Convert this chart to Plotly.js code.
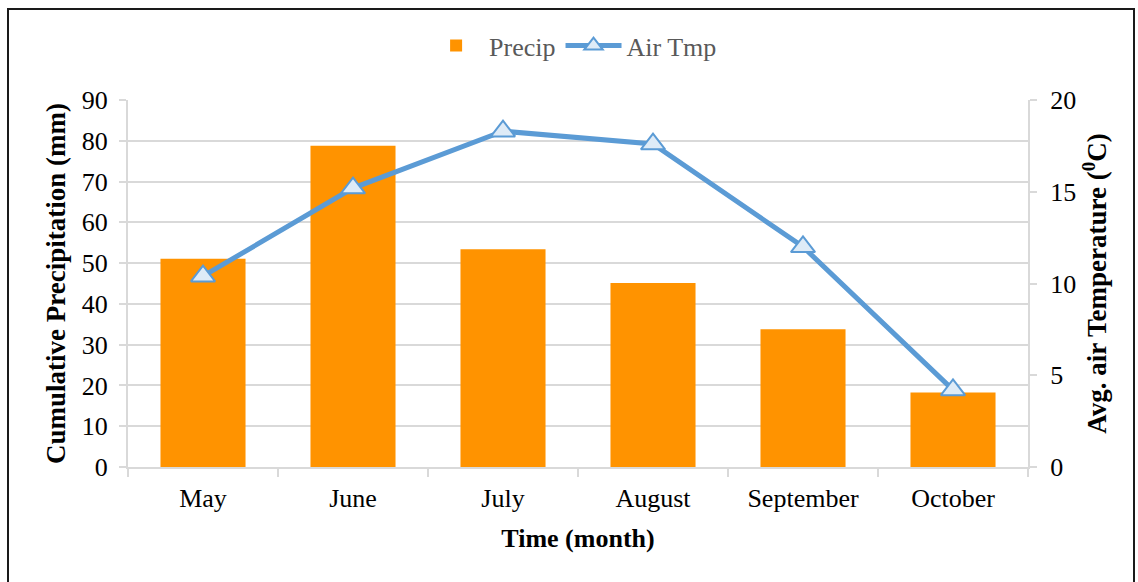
<!DOCTYPE html>
<html>
<head>
<meta charset="utf-8">
<script src="https://cdn.plot.ly/plotly-3.0.1.min.js"></script>
<style>
  html, body { margin: 0; padding: 0; background: #fff; }
  #wrap { position: relative; width: 1138px; height: 582px; overflow: hidden; }
  #chart { width: 1138px; height: 582px; }
  #frame {
    position: absolute; left: 7px; top: 8px; width: 1124px; height: 600px;
    border: 2px solid #1a1a1a; pointer-events: none;
  }
</style>
</head>
<body>
<div id="wrap">
  <div id="chart"></div>
  <div id="frame"></div>
</div>
<script>
// Monthly totals and averages for the growing season
const months = ["May", "June", "July", "August", "September", "October"];
const precipMm = [51.1, 78.8, 53.4, 45.1, 33.8, 18.3];
const airTempC = [10.4, 15.2, 18.3, 17.6, 12.0, 4.2];

const leftTicks = [0, 10, 20, 30, 40, 50, 60, 70, 80, 90];
const rightTicks = [0, 5, 10, 15, 20];

const serif = "'Liberation Serif', 'Times New Roman', serif";
const gridGray = "#d9d9d9";

const traces = [
  {
    type: "bar",
    name: "Precip",
    x: months,
    y: precipMm,
    marker: { color: "#ff9300", line: { width: 0 } },
    yaxis: "y",
    hoverinfo: "x+y"
  },
  {
    type: "scatter",
    mode: "lines+markers",
    name: "Air Tmp",
    x: months,
    y: airTempC,
    yaxis: "y2",
    line: { color: "#5b9bd5", width: 5 },
    marker: {
      symbol: "triangle-up",
      size: 21,
      color: "#deebf7",
      line: { color: "#5b9bd5", width: 2 }
    }
  }
];

const layout = {
  width: 1138,
  height: 582,
  margin: { l: 128, r: 110, t: 100, b: 115, pad: 0 },
  paper_bgcolor: "#ffffff",
  plot_bgcolor: "#ffffff",
  font: { family: serif, size: 26, color: "#000000" },
  bargap: 0.433,
  showlegend: true,
  legend: {
    orientation: "h",
    x: 0.494, xanchor: "center",
    y: 1.148, yanchor: "middle",
    font: { family: serif, size: 26, color: "#595959" },
    traceorder: "normal",
    itemwidth: 56
  },
  xaxis: {
    type: "category",
    tickson: "boundaries",
    ticks: "outside",
    ticklen: 8,
    tickwidth: 2,
    tickcolor: gridGray,
    ticklabelstandoff: 7,
    showline: true,
    linecolor: gridGray,
    linewidth: 2,
    showgrid: false,
    tickfont: { family: serif, size: 26, color: "#000" },
    title: {
      text: "<b>Time (month)</b>",
      font: { family: serif, size: 26, color: "#000" },
      standoff: 17
    }
  },
  yaxis: {
    range: [0, 90],
    tickvals: leftTicks,
    ticks: "outside",
    ticklen: 7,
    tickwidth: 2,
    tickcolor: gridGray,
    ticklabelstandoff: 6,
    showline: true,
    linecolor: gridGray,
    linewidth: 2,
    showgrid: true,
    gridcolor: gridGray,
    gridwidth: 2,
    zeroline: false,
    tickfont: { family: serif, size: 26, color: "#000" },
    title: {
      text: "<b>Cumulative Precipitation (mm)</b>",
      font: { family: serif, size: 27, color: "#000" },
      standoff: 8
    }
  },
  yaxis2: {
    overlaying: "y",
    side: "right",
    range: [0, 20],
    tickvals: rightTicks,
    ticks: "outside",
    ticklen: 7,
    tickwidth: 2,
    tickcolor: gridGray,
    ticklabelstandoff: 8,
    showline: true,
    linecolor: gridGray,
    linewidth: 2,
    showgrid: false,
    zeroline: false,
    tickfont: { family: serif, size: 26, color: "#000" },
    title: {
      text: "<b>Avg. air Temperature (<sup>0</sup>C)</b>",
      font: { family: serif, size: 27, color: "#000" },
      standoff: 12
    }
  }
};

Plotly.newPlot("chart", traces, layout, { displayModeBar: false, staticPlot: true });
</script>
</body>
</html>
